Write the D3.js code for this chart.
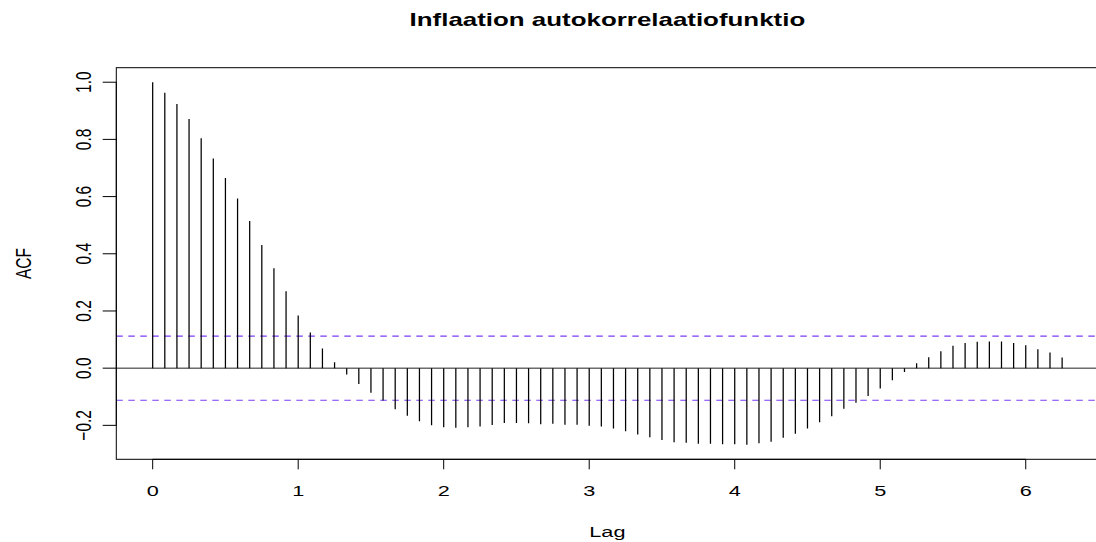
<!DOCTYPE html>
<html>
<head>
<meta charset="utf-8">
<script src="https://cdn.jsdelivr.net/npm/d3@7"></script>
<style>
  html, body { margin: 0; padding: 0; background: #fff; }
  svg { display: block; }
  text { font-family: "Liberation Sans", Arial, Helvetica, sans-serif; fill: #000; }
</style>
</head>
<body>
<svg id="chart" width="1096" height="542"></svg>
<script>
// Sample autocorrelations of monthly inflation, lags 0..75 months
const acfValues = [
  1.000, 0.963, 0.924, 0.871, 0.804, 0.733, 0.665, 0.593, 0.515, 0.431,
  0.349, 0.269, 0.184, 0.125, 0.069, 0.021, -0.022, -0.055, -0.086, -0.113,
  -0.144, -0.166, -0.186, -0.200, -0.207, -0.208, -0.207, -0.204, -0.199, -0.192,
  -0.192, -0.193, -0.196, -0.194, -0.198, -0.198, -0.201, -0.204, -0.211, -0.221,
  -0.232, -0.242, -0.251, -0.259, -0.261, -0.264, -0.264, -0.266, -0.266, -0.268,
  -0.263, -0.257, -0.243, -0.229, -0.211, -0.189, -0.168, -0.142, -0.121, -0.097,
  -0.071, -0.042, -0.013, 0.017, 0.038, 0.059, 0.078, 0.088, 0.092, 0.093,
  0.093, 0.088, 0.080, 0.066, 0.055, 0.037
];
const seriesFrequency = 12;          // monthly series: lag axis in years
const confidenceBound = 0.112;       // approx. 1.96 / sqrt(n)
const xTickValues = [0, 1, 2, 3, 4, 5, 6];
const yTickValues = [-0.2, 0.0, 0.2, 0.4, 0.6, 0.8, 1.0];
const titleText = "Inflaation autokorrelaatiofunktio";
const xLabelText = "Lag";
const yLabelText = "ACF";

const lags = acfValues.map((v, i) => i / seriesFrequency);

// plot region
const box = { left: 116.3, right: 1098.5, top: 67.7, bottom: 459.3 };
const SX = 1.4; // horizontal stretch of the lettering

function padded(lo, hi) {
  const d = (hi - lo) * 0.04;
  return [lo - d, hi + d];
}

const x = d3.scaleLinear()
  .domain(padded(0, d3.max(lags)))
  .range([box.left, box.right]);

const yExt = d3.extent(acfValues.concat([-confidenceBound, confidenceBound]));
const y = d3.scaleLinear()
  .domain(padded(yExt[0], yExt[1]))
  .range([box.bottom, box.top]);

const svg = d3.select("#chart");

const defs = svg.append("defs");
defs.append("clipPath").attr("id", "plotClip")
  .append("rect")
  .attr("x", box.left).attr("y", box.top)
  .attr("width", box.right - box.left).attr("height", box.bottom - box.top);

const plot = svg.append("g").attr("clip-path", "url(#plotClip)");

// zero line
plot.append("line")
  .attr("x1", box.left).attr("x2", box.right)
  .attr("y1", y(0)).attr("y2", y(0))
  .attr("stroke", "#222").attr("stroke-width", 1);

// confidence bounds
plot.selectAll("line.ci")
  .data([confidenceBound, -confidenceBound])
  .join("line")
  .attr("class", "ci")
  .attr("x1", box.left).attr("x2", box.right)
  .attr("y1", d => y(d)).attr("y2", d => y(d))
  .attr("stroke", "#7a3cf5")
  .attr("stroke-width", 1.1)
  .attr("stroke-dasharray", "6.5,5.5");

// ACF spikes
plot.selectAll("line.spike")
  .data(acfValues)
  .join("line")
  .attr("class", "spike")
  .attr("x1", (d, i) => x(lags[i])).attr("x2", (d, i) => x(lags[i]))
  .attr("y1", y(0)).attr("y2", d => y(d))
  .attr("stroke", "#000").attr("stroke-width", 1.25);

// frame
svg.append("rect")
  .attr("x", box.left).attr("y", box.top)
  .attr("width", box.right - box.left).attr("height", box.bottom - box.top)
  .attr("fill", "none").attr("stroke", "#000").attr("stroke-width", 1);

// x axis
const xAxis = svg.append("g");
xAxis.append("line")
  .attr("x1", x(xTickValues[0])).attr("x2", x(xTickValues[xTickValues.length - 1]))
  .attr("y1", box.bottom).attr("y2", box.bottom)
  .attr("stroke", "#000").attr("stroke-width", 1);
xAxis.selectAll("line.tick")
  .data(xTickValues)
  .join("line")
  .attr("class", "tick")
  .attr("x1", d => x(d)).attr("x2", d => x(d))
  .attr("y1", box.bottom).attr("y2", box.bottom + 10)
  .attr("stroke", "#000").attr("stroke-width", 1);
xAxis.selectAll("text")
  .data(xTickValues)
  .join("text")
  .attr("transform", d => `translate(${x(d)},496) scale(${SX},1)`)
  .attr("text-anchor", "middle")
  .attr("font-size", 15.5)
  .text(d => d3.format("d")(d));

// y axis
const yAxis = svg.append("g");
yAxis.append("line")
  .attr("x1", box.left).attr("x2", box.left)
  .attr("y1", y(yTickValues[0])).attr("y2", y(yTickValues[yTickValues.length - 1]))
  .attr("stroke", "#000").attr("stroke-width", 1);
yAxis.selectAll("line.tick")
  .data(yTickValues)
  .join("line")
  .attr("class", "tick")
  .attr("x1", box.left - 13.6).attr("x2", box.left)
  .attr("y1", d => y(d)).attr("y2", d => y(d))
  .attr("stroke", "#000").attr("stroke-width", 1);
yAxis.selectAll("text")
  .data(yTickValues)
  .join("text")
  .attr("transform", d => `translate(90.6,${y(d)}) scale(${SX},1) rotate(-90)`)
  .attr("text-anchor", "middle")
  .attr("font-size", 15.5)
  .text(d => d3.format(".1f")(d).replace("-", "\u2212"));

// titles
const midX = (box.left + box.right) / 2;
const midY = (box.top + box.bottom) / 2;

svg.append("text")
  .attr("transform", `translate(${midX},26) scale(${SX},1)`)
  .attr("text-anchor", "middle")
  .attr("font-size", 18.5)
  .attr("font-weight", "bold")
  .text(titleText);

svg.append("text")
  .attr("transform", `translate(${midX},537) scale(${SX},1)`)
  .attr("text-anchor", "middle")
  .attr("font-size", 15.5)
  .text(xLabelText);

svg.append("text")
  .attr("transform", `translate(30.8,${midY}) scale(${SX},1) rotate(-90)`)
  .attr("text-anchor", "middle")
  .attr("font-size", 15.5)
  .text(yLabelText);
</script>
</body>
</html>
